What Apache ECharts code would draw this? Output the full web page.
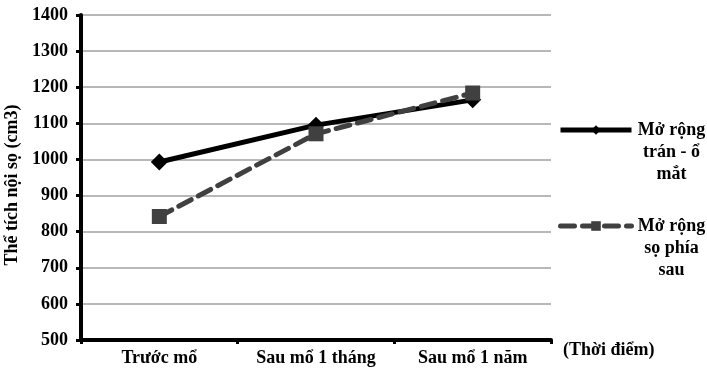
<!DOCTYPE html>
<html><head><meta charset="utf-8">
<script src="https://cdn.jsdelivr.net/npm/echarts@6/dist/echarts.min.js"></script>
<style>html,body{margin:0;padding:0;background:#fff}#c{width:707px;height:373px}</style>
</head><body><div id="c"></div>
<script>
const categories = ['Trước mổ', 'Sau mổ 1 tháng', 'Sau mổ 1 năm'];
const seriesNames = ['Mở rộng\ntrán - ổ\nmắt', 'Mở rộng\nsọ phía\nsau'];
const frontoOrbital = [993, 1095, 1165];
const posterior = [842, 1071, 1184];
const yTicks = [500, 600, 700, 800, 900, 1000, 1100, 1200, 1300, 1400];

const FONT = '"Liberation Serif", "Times New Roman", serif';
function legendCfg(name, top) {
  return {
    orient: 'vertical',
    left: 558,
    top: top,
    padding: 0,
    itemWidth: 71,
    itemHeight: 12,
    data: [name],
    lineStyle: {width: 5},
    formatter: function (n) {
      return ['{a| }', '{a| }'].concat(n.split('\n').map(function (s) { return '{a|' + s + '}'; })).join('\n');
    },
    textStyle: {
      padding: 0,
      rich: {a: {fontFamily: FONT, fontWeight: 'bold', fontSize: 18, color: '#000', width: 70, align: 'center', lineHeight: 22}}
    }
  };
}
const chart = echarts.init(document.getElementById('c'), null, {renderer: 'canvas'});
chart.setOption({
  animation: false,
  backgroundColor: '#fff',
  grid: {left: 81, right: 156, top: 15, bottom: 33, containLabel: false, outerBoundsMode: 'none'},
  legend: [legendCfg(seriesNames[0], 77), legendCfg(seriesNames[1], 173)],
  xAxis: {
    type: 'category',
    data: categories,
    boundaryGap: true,
    name: '(Thời điểm)',
    nameLocation: 'end',
    nameGap: 12,
    nameTextStyle: {fontFamily: FONT, fontWeight: 'bold', fontSize: 18, color: '#000', verticalAlign: 'top', lineHeight: 20},
    axisLine: {lineStyle: {color: '#000', width: 4}},
    axisTick: {show: true, length: 4, lineStyle: {color: '#000', width: 3}},
    axisLabel: {interval: 0, fontFamily: FONT, fontWeight: 'bold', fontSize: 18, color: '#000', margin: 9},
    splitLine: {show: false}
  },
  yAxis: {
    type: 'value',
    min: 500, max: 1400, interval: 100,
    name: 'Thể tích nội sọ (cm3)',
    nameLocation: 'middle',
    nameGap: 53,
    nameRotate: 90,
    nameTextStyle: {fontFamily: FONT, fontWeight: 'bold', fontSize: 18, color: '#000', padding: [0, 0, 0, -15]},
    axisLine: {show: true, lineStyle: {color: '#000', width: 4}},
    axisTick: {show: true, length: 5, lineStyle: {color: '#000', width: 3}},
    axisLabel: {fontFamily: FONT, fontWeight: 'bold', fontSize: 18, color: '#000', margin: 13,
      formatter: function (v) { return yTicks.indexOf(v) >= 0 ? String(v) : ''; }},
    splitLine: {show: true, lineStyle: {color: '#a0a0a0', width: 1.5}}
  },
  series: [
    {
      name: seriesNames[0], type: 'line', data: frontoOrbital,
      symbol: 'diamond', symbolSize: 17,
      lineStyle: {color: '#000', width: 5},
      itemStyle: {color: '#000'},
      z: 3
    },
    {
      name: seriesNames[1], type: 'line', data: posterior,
      symbol: 'rect', symbolSize: 15,
      lineStyle: {color: '#404040', width: 5, type: [14, 8], cap: 'round'},
      itemStyle: {color: '#404040'},
      z: 4
    }
  ]
});
</script></body></html>
